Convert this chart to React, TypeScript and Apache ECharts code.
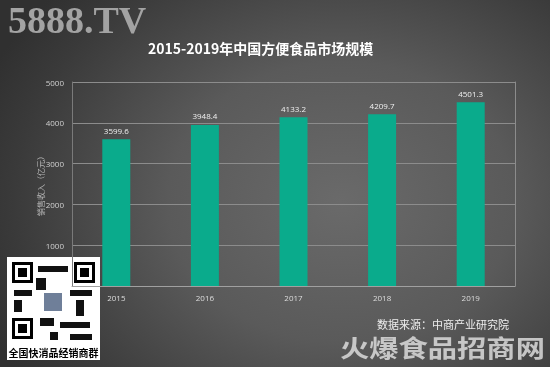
import React, { useEffect, useRef } from "react";
import * as echarts from "echarts";

const years = ["2015", "2016", "2017", "2018", "2019"];
const revenue = [3599.6, 3948.4, 4133.2, 4209.7, 4501.3];
const yTicks = { min: 0, max: 5000, interval: 1000 };
const titleText = "2015-2019年中国方便食品市场规模";
const yAxisName = "销售收入（亿元）";
const sourceText = "数据来源：中商产业研究院";
const qrCaption = "全国快消品经销商群";

const FONT = "'Open Sans', 'Noto Sans CJK SC', sans-serif";

export default function App() {
  const ref = useRef<HTMLDivElement>(null);
  useEffect(() => {
    document.body.style.margin = "0";
    const chart = echarts.init(ref.current!, null, { renderer: "svg" });
    const finder = (x: number, y: number) => ({
      type: "group",
      children: [
        { type: "rect", shape: { x, y, width: 21, height: 21 }, style: { fill: "#000" } },
        { type: "rect", shape: { x: x + 3, y: y + 3, width: 15, height: 15 }, style: { fill: "#fff" } },
        { type: "rect", shape: { x: x + 6, y: y + 6, width: 9, height: 9 }, style: { fill: "#000" } },
      ],
    });
    chart.setOption({
      animation: false,
      backgroundColor: "transparent",
      title: {
        text: titleText,
        left: 143,
        top: 36,
        textStyle: { color: "#ffffff", fontSize: 14, fontWeight: "bold", fontFamily: "'Noto Sans CJK SC', sans-serif" },
      },
      grid: { left: 72, right: 35, top: 82, bottom: 81 },
      xAxis: {
        type: "category",
        data: years,
        axisLine: { show: true, lineStyle: { color: "#a0a0a0", width: 1 } },
        axisTick: { show: false },
        axisLabel: { color: "#dddddd", fontSize: 8, margin: 7, fontFamily: FONT },
      },
      yAxis: [
        {
          type: "value",
          min: yTicks.min,
          max: yTicks.max,
          interval: yTicks.interval,
          name: yAxisName,
          nameLocation: "middle",
          nameGap: 28,
          nameMoveOverlap: false,
          nameTextStyle: { color: "#b5b5b5", fontSize: 8, fontFamily: "'Noto Sans CJK SC', sans-serif" },
          axisLine: { show: true, lineStyle: { color: "#7a7a7a", width: 1 } },
          axisTick: { show: false },
          axisLabel: {
            color: "#d0d0d0",
            fontSize: 8,
            margin: 8,
            fontFamily: FONT,
            formatter: (v: number) => (v === 0 ? "" : String(v)),
          },
          splitLine: { show: true, lineStyle: { color: "#8c8c8c", width: 1 } },
        },
        {
          type: "value",
          position: "right",
          min: yTicks.min,
          max: yTicks.max,
          interval: yTicks.interval,
          axisLine: { show: true, lineStyle: { color: "#8c8c8c", width: 1 } },
          axisTick: { show: false },
          axisLabel: { show: false },
          splitLine: { show: false },
        },
      ],
      series: [
        {
          type: "bar",
          data: revenue,
          barWidth: 28,
          itemStyle: { color: "#0aab8c" },
          label: {
            show: true,
            position: "top",
            distance: 5,
            color: "#f0f0f0",
            fontSize: 8,
            fontFamily: FONT,
          },
        },
      ],
      graphic: [
        {
          type: "text",
          left: 8,
          top: 1,
          style: {
            text: "5888.TV",
            fill: "#a3a3a3",
            font: "bold 38px 'Liberation Serif', serif",
          },
        },
        {
          type: "text",
          left: 377,
          top: 318,
          style: {
            text: sourceText,
            fill: "#eeeeee",
            font: "11px 'Noto Sans CJK SC', sans-serif",
          },
        },
        {
          type: "text",
          x: 340,
          y: 347,
          scaleX: 1.22,
          style: {
            text: "火爆食品招商网",
            fill: "rgba(225,225,225,0.82)",
            font: "bold 24px 'Noto Sans CJK SC', sans-serif",
            textVerticalAlign: "middle",
          },
        },
        {
          type: "group",
          children: [
            { type: "rect", shape: { x: 7, y: 257, width: 93, height: 103 }, style: { fill: "#ffffff" } },
            finder(12, 262),
            finder(74, 262),
            finder(12, 318),
            { type: "rect", shape: { x: 38, y: 266, width: 30, height: 6 }, style: { fill: "#111" } },
            { type: "rect", shape: { x: 36, y: 278, width: 10, height: 12 }, style: { fill: "#111" } },
            { type: "rect", shape: { x: 14, y: 290, width: 18, height: 6 }, style: { fill: "#111" } },
            { type: "rect", shape: { x: 14, y: 300, width: 8, height: 12 }, style: { fill: "#111" } },
            { type: "rect", shape: { x: 44, y: 293, width: 18, height: 18 }, style: { fill: "#6f7f99" } },
            { type: "rect", shape: { x: 70, y: 290, width: 22, height: 6 }, style: { fill: "#111" } },
            { type: "rect", shape: { x: 76, y: 300, width: 8, height: 16 }, style: { fill: "#111" } },
            { type: "rect", shape: { x: 40, y: 318, width: 14, height: 8 }, style: { fill: "#111" } },
            { type: "rect", shape: { x: 60, y: 322, width: 30, height: 6 }, style: { fill: "#111" } },
            { type: "rect", shape: { x: 50, y: 332, width: 8, height: 8 }, style: { fill: "#111" } },
            { type: "rect", shape: { x: 70, y: 334, width: 22, height: 6 }, style: { fill: "#111" } },
            {
              type: "text",
              x: 53.5,
              y: 352,
              style: {
                text: qrCaption,
                fill: "#000",
                font: "bold 10px 'Noto Sans CJK SC', sans-serif",
                textAlign: "center",
                textVerticalAlign: "middle",
              },
            },
          ],
        },
      ],
    });
    return () => chart.dispose();
  }, []);
  return (
    <div
      ref={ref}
      style={{
        position: "fixed",
        left: 0,
        top: 0,
        width: 550,
        height: 367,
        background:
          "radial-gradient(ellipse 70% 85% at 62% 55%, #6a6a6a 0%, #5a5a5a 45%, #3a3a3a 85%, #303030 100%)",
      }}
    />
  );
}
